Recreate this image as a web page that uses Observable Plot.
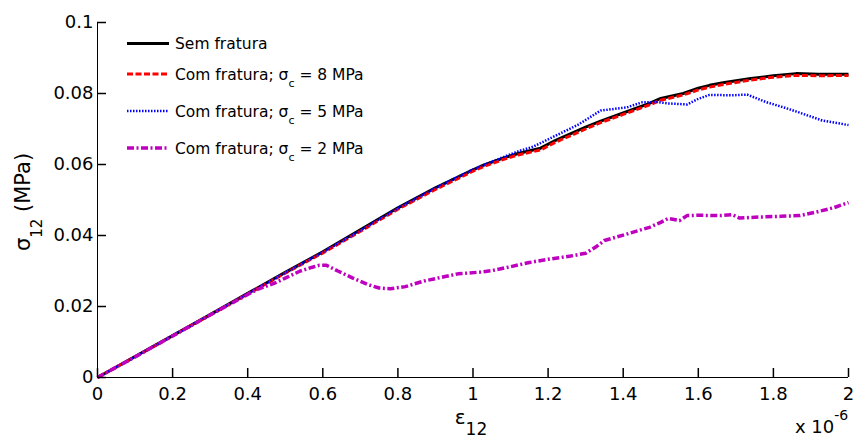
<!DOCTYPE html>
<html><head><meta charset="utf-8">
<script src="https://cdn.jsdelivr.net/npm/d3@7"></script>
<script src="https://cdn.jsdelivr.net/npm/@observablehq/plot@0.6"></script>
<style>html,body{margin:0;padding:0;background:#fff;overflow:hidden} svg{display:block}</style>
</head><body><div id="chart"></div>
<script>
// strain values in units of 1e-6
const semX = [0,0.1,0.2,0.3,0.4,0.5,0.6,0.7,0.8,0.9,1.0,1.03,1.08,1.12,1.18,1.22,1.3,1.34,1.4,1.47,1.5,1.56,1.6,1.63,1.67,1.74,1.8,1.86,1.92,2.0];
const semY = [0,0.0059,0.0118,0.0177,0.0237,0.0296,0.0354,0.0416,0.0478,0.0534,0.0585,0.0599,0.0618,0.0631,0.0646,0.0668,0.0705,0.0722,0.0745,0.0772,0.0786,0.0800,0.0815,0.0823,0.0831,0.0842,0.0850,0.0856,0.0854,0.0854];

const c8X = [0,0.1,0.2,0.3,0.4,0.5,0.6,0.7,0.8,0.9,1.0,1.03,1.08,1.12,1.18,1.22,1.3,1.34,1.4,1.47,1.5,1.56,1.6,1.63,1.67,1.74,1.8,1.86,1.92,2.0];
const c8Y = [0,0.0058,0.0117,0.0176,0.0235,0.0294,0.0351,0.0412,0.0474,0.0530,0.0581,0.0595,0.0614,0.0627,0.0641,0.0663,0.0700,0.0718,0.0741,0.0768,0.0781,0.0796,0.0810,0.0818,0.0826,0.0838,0.0846,0.0851,0.0850,0.0851];

const c5X = [0,0.1,0.2,0.3,0.4,0.5,0.6,0.7,0.8,0.9,1.0,1.05,1.12,1.16,1.21,1.28,1.34,1.41,1.45,1.49,1.52,1.57,1.6,1.63,1.69,1.73,1.78,1.83,1.87,1.93,2.0];
const c5Y = [0,0.0058,0.0118,0.0176,0.0236,0.0295,0.0353,0.0414,0.0477,0.0534,0.0586,0.0608,0.0637,0.0650,0.0676,0.0712,0.0752,0.0761,0.0775,0.0776,0.0772,0.0769,0.0785,0.0796,0.0795,0.0797,0.0776,0.0760,0.0746,0.0724,0.0711];

const c2X = [0,0.1,0.2,0.3,0.4,0.43,0.47,0.5,0.54,0.57,0.59,0.61,0.64,0.68,0.72,0.75,0.78,0.82,0.87,0.92,0.96,1.02,1.05,1.1,1.15,1.2,1.26,1.3,1.33,1.35,1.4,1.47,1.5,1.52,1.55,1.57,1.6,1.66,1.69,1.71,1.76,1.82,1.87,1.91,1.96,2.0];
const c2Y = [0,0.0058,0.0117,0.0176,0.0234,0.0250,0.0265,0.0280,0.0300,0.0310,0.0316,0.0316,0.0300,0.0280,0.0262,0.0252,0.0250,0.0256,0.0272,0.0283,0.0292,0.0297,0.0301,0.0312,0.0324,0.0333,0.0342,0.0350,0.0370,0.0386,0.0401,0.0423,0.0437,0.0448,0.0442,0.0456,0.0457,0.0456,0.0459,0.0449,0.0452,0.0454,0.0456,0.0465,0.0478,0.0493];

const xTicks = [0,0.2,0.4,0.6,0.8,1,1.2,1.4,1.6,1.8,2];
const xTickLabels = ["0","0.2","0.4","0.6","0.8","1","1.2","1.4","1.6","1.8","2"];
const yTicks = [0,0.02,0.04,0.06,0.08,0.1];
const yTickLabels = ["0","0.02","0.04","0.06","0.08","0.1"];

const legendMain = ["Sem fratura","Com fratura; σ","Com fratura; σ","Com fratura; σ"];
const legendSub = ["","c","c","c"];
const legendTail = [""," = 8 MPa"," = 5 MPa"," = 2 MPa"];

const colors = ["#000000","#ff0000","#0000ff","#bf00bf"];
const widths = [3, 3, 2.5, 3.5];
const dashes = ["none", "6,2.5", "1.5,1.5", "7,2.5,2,2.5"];

const toRows = (xs, ys) => xs.map((x, i) => ({x, y: ys[i]}));
const series = [toRows(semX, semY), toRows(c8X, c8Y), toRows(c5X, c5Y), toRows(c2X, c2Y)];

const W = 853, H = 438, ML = 97, MR = 5, MT = 22, MB = 61, TICK = 9;

const chart = Plot.plot({
  width: W, height: H,
  marginLeft: ML, marginRight: MR, marginTop: MT, marginBottom: MB,
  style: {fontFamily: "DejaVu Sans, sans-serif", fontSize: "18px", color: "#000", background: "#fff"},
  x: {domain: [0, 2], label: null},
  y: {domain: [0, 0.1], label: null},
  marks: [
    Plot.ruleX([0], {stroke: "#000", strokeWidth: 1}),
    Plot.ruleY([0], {stroke: "#000", strokeWidth: 1}),
    Plot.axisX(xTicks, {tickSize: 0, tickPadding: 10, fontSize: 18, tickFormat: d => xTickLabels[xTicks.indexOf(d)], label: null}),
    Plot.axisY(yTicks, {tickSize: 0, tickPadding: 4, fontSize: 18, tickFormat: d => yTickLabels[yTicks.indexOf(d)], label: null}),
    ...series.map((rows, i) => Plot.line(rows, {x: "x", y: "y", stroke: colors[i], strokeWidth: widths[i], strokeDasharray: dashes[i], strokeLinecap: "butt", strokeLinejoin: "round", curve: "linear"})),
    // inward ticks, drawn last
    Plot.tickX(xTicks, {x: d => d, stroke: "#000", strokeWidth: 1.5, strokeOpacity: 1, insetTop: (H - MT - MB) - TICK}),
    Plot.tickY(yTicks, {y: d => d, stroke: "#000", strokeWidth: 1.5, strokeOpacity: 1, insetRight: (W - ML - MR) - TICK})
  ]
});
document.getElementById("chart").appendChild(chart);

const svg = d3.select(chart);
const font = "DejaVu Sans, sans-serif";

// legend
const legendY = [43.5, 74, 111, 148];
const lg = svg.append("g").attr("text-anchor", "start");
legendMain.forEach((m, i) => {
  const y = legendY[i];
  lg.append("line").attr("x1", 127).attr("x2", 169).attr("y1", y).attr("y2", y)
    .attr("stroke", colors[i]).attr("stroke-width", widths[i])
    .attr("stroke-dasharray", dashes[i]);
  const t = lg.append("text").attr("x", 175).attr("y", y + 5.5).attr("text-anchor", "start")
    .attr("font-family", font).attr("font-size", 15.5).attr("fill", "#000");
  t.append("tspan").text(m);
  if (legendSub[i]) {
    t.append("tspan").attr("dy", 7).attr("font-size", 11).text(legendSub[i]);
    t.append("tspan").attr("dy", -7).text(legendTail[i]);
  }
});

// x label
const xl = svg.append("text").attr("x", 471).attr("y", 424).attr("text-anchor", "middle")
  .attr("font-family", font).attr("font-size", 20).attr("fill", "#000");
xl.append("tspan").text("ε");
xl.append("tspan").attr("dy", 11).attr("font-size", 17).text("12");

// y label
const yl = svg.append("text").attr("transform", "translate(30,202) rotate(-90)").attr("text-anchor", "middle")
  .attr("font-family", font).attr("font-size", 21).attr("fill", "#000");
yl.append("tspan").text("σ");
yl.append("tspan").attr("dy", 12).attr("font-size", 15).text("12");
yl.append("tspan").attr("dy", -12).text(" (MPa)");

// exponent
const ex = svg.append("text").attr("x", 795).attr("y", 433).attr("text-anchor", "start")
  .attr("font-family", font).attr("font-size", 18).attr("fill", "#000");
ex.append("tspan").text("x 10");
ex.append("tspan").attr("dy", -13).attr("font-size", 14).text("-6");
</script>
</body></html>
